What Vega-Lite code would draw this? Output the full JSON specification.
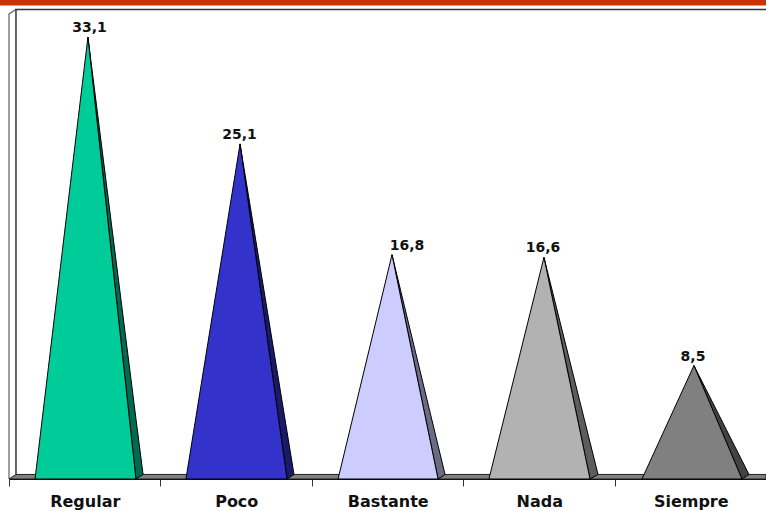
{
  "$schema": "https://vega.github.io/schema/vega-lite/v6.json",
  "width": 757,
  "height": 479,
  "padding": {"left": 9, "top": 0, "right": 0, "bottom": 32},
  "autosize": "none",
  "background": "white",
  "config": {
    "view": {"stroke": null},
    "locale": {"number": {"decimal": ",", "thousands": ".", "grouping": [3], "currency": ["", " €"]}}
  },
  "datasets": {
    "barra": [{"x": -0.06, "y": 35.9, "y2": 35.46}, {"x": 4.9967, "y": 35.9, "y2": 35.46}],
    "suelo": [{"x": 0, "y": 0, "y2": 0}, {"x": 0.046, "y": 0.34, "y2": 0}, {"x": 4.9967, "y": 0.34, "y2": 0}],
    "lateral": [{"x": 0, "y": 0, "n": 1}, {"x": 0, "y": 34.83, "n": 2}, {"x": 0.046, "y": 35.17, "n": 3}],
    "fondo": [{"x": 0.046, "y": 0.34, "n": 1}, {"x": 0.046, "y": 35.17, "n": 2}, {"x": 4.9967, "y": 35.17, "n": 3}],
    "triangulos": [
      {"parte": "Regular lado", "x": 0.521, "y": 33.1, "y2": 33.1},
      {"parte": "Regular lado", "x": 0.838, "y": 4.5, "y2": 0},
      {"parte": "Regular lado", "x": 0.885, "y": 0.34, "y2": 0.34},
      {"parte": "Regular", "x": 0.172, "y": 0, "y2": 0},
      {"parte": "Regular", "x": 0.521, "y": 33.1, "y2": 0},
      {"parte": "Regular", "x": 0.838, "y": 0, "y2": 0},
      {"parte": "Poco lado", "x": 1.525, "y": 25.1, "y2": 25.1},
      {"parte": "Poco lado", "x": 1.835, "y": 3.55, "y2": 0},
      {"parte": "Poco lado", "x": 1.881, "y": 0.34, "y2": 0.34},
      {"parte": "Poco", "x": 1.168, "y": 0, "y2": 0},
      {"parte": "Poco", "x": 1.525, "y": 25.1, "y2": 0},
      {"parte": "Poco", "x": 1.835, "y": 0, "y2": 0},
      {"parte": "Bastante lado", "x": 2.528, "y": 16.8, "y2": 16.8},
      {"parte": "Bastante lado", "x": 2.832, "y": 2.51, "y2": 0},
      {"parte": "Bastante lado", "x": 2.878, "y": 0.34, "y2": 0.34},
      {"parte": "Bastante", "x": 2.172, "y": 0, "y2": 0},
      {"parte": "Bastante", "x": 2.528, "y": 16.8, "y2": 0},
      {"parte": "Bastante", "x": 2.832, "y": 0, "y2": 0},
      {"parte": "Nada lado", "x": 3.531, "y": 16.6, "y2": 16.6},
      {"parte": "Nada lado", "x": 3.835, "y": 2.75, "y2": 0},
      {"parte": "Nada lado", "x": 3.888, "y": 0.34, "y2": 0.34},
      {"parte": "Nada", "x": 3.168, "y": 0, "y2": 0},
      {"parte": "Nada", "x": 3.531, "y": 16.6, "y2": 0},
      {"parte": "Nada", "x": 3.835, "y": 0, "y2": 0},
      {"parte": "Siempre lado", "x": 4.521, "y": 8.5, "y2": 8.5},
      {"parte": "Siempre lado", "x": 4.838, "y": 1.38, "y2": 0},
      {"parte": "Siempre lado", "x": 4.884, "y": 0.34, "y2": 0.34},
      {"parte": "Siempre", "x": 4.178, "y": 0, "y2": 0},
      {"parte": "Siempre", "x": 4.521, "y": 8.5, "y2": 0},
      {"parte": "Siempre", "x": 4.838, "y": 0, "y2": 0}
    ],
    "valores": [
      {"categoria": "Regular", "valor": 33.1, "x": 0.531},
      {"categoria": "Poco", "valor": 25.1, "x": 1.521},
      {"categoria": "Bastante", "valor": 16.8, "x": 2.627},
      {"categoria": "Nada", "valor": 16.6, "x": 3.525},
      {"categoria": "Siempre", "valor": 8.5, "x": 4.515}
    ]
  },
  "layer": [
    {
      "data": {"name": "lateral"},
      "mark": {"type": "line", "color": "#808080", "strokeWidth": 1.5, "clip": false},
      "encoding": {
        "x": {
          "field": "x", "type": "quantitative",
          "scale": {"domain": [0, 4.9967], "nice": false, "zero": false},
          "title": null,
          "axis": {
            "values": [0, 0.5, 1, 1.5, 2, 2.5, 3, 3.5, 4, 4.5],
            "grid": false,
            "domainColor": "black",
            "tickColor": "#333333",
            "tickSize": 7,
            "tickOpacity": {"expr": "datum.value % 1 === 0 ? 1 : 0"},
            "labelExpr": "datum.value === 0.5 ? 'Regular' : datum.value === 1.5 ? 'Poco' : datum.value === 2.5 ? 'Bastante' : datum.value === 3.5 ? 'Nada' : datum.value === 4.5 ? 'Siempre' : ''",
            "labelFont": "DejaVu Sans",
            "labelFontWeight": "bold",
            "labelFontSize": 16,
            "labelColor": "#111111",
            "labelPadding": 7,
            "labelFlush": false,
            "labelOverlap": false,
            "labelBound": false
          }
        },
        "y": {
          "field": "y", "type": "quantitative",
          "scale": {"domain": [0, 35.88], "nice": false},
          "axis": null
        },
        "order": {"field": "n"}
      }
    },
    {
      "data": {"name": "fondo"},
      "mark": {"type": "line", "color": "#333333", "strokeWidth": 1.5, "clip": false},
      "encoding": {
        "x": {"field": "x", "type": "quantitative"},
        "y": {"field": "y", "type": "quantitative"},
        "order": {"field": "n"}
      }
    },
    {
      "data": {"name": "barra"},
      "mark": {"type": "area", "color": "#CC3300", "clip": false},
      "encoding": {
        "x": {"field": "x", "type": "quantitative"},
        "y": {"field": "y", "type": "quantitative"},
        "y2": {"field": "y2"}
      }
    },
    {
      "data": {"name": "suelo"},
      "mark": {"type": "area", "color": "#808080", "stroke": "#222222", "strokeWidth": 1, "clip": false},
      "encoding": {
        "x": {"field": "x", "type": "quantitative"},
        "y": {"field": "y", "type": "quantitative"},
        "y2": {"field": "y2"}
      }
    },
    {
      "data": {"name": "triangulos"},
      "mark": {"type": "area", "stroke": "black", "strokeWidth": 1, "opacity": 1, "clip": false},
      "encoding": {
        "x": {"field": "x", "type": "quantitative"},
        "y": {"field": "y", "type": "quantitative"},
        "y2": {"field": "y2"},
        "color": {
          "field": "parte", "type": "nominal", "legend": null,
          "scale": {
            "domain": ["Regular", "Regular lado", "Poco", "Poco lado", "Bastante", "Bastante lado", "Nada", "Nada lado", "Siempre", "Siempre lado"],
            "range": ["#00CC99", "#006B50", "#3333CC", "#1A1A6B", "#CCCCFF", "#6B6B86", "#B2B2B2", "#5D5D5D", "#808080", "#434343"]
          }
        }
      }
    },
    {
      "data": {"name": "valores"},
      "mark": {"type": "text", "font": "DejaVu Sans", "fontWeight": "bold", "fontSize": 14, "color": "#111111", "baseline": "bottom", "dy": -2, "clip": false},
      "encoding": {
        "x": {"field": "x", "type": "quantitative"},
        "y": {"field": "valor", "type": "quantitative"},
        "text": {"field": "valor", "type": "quantitative", "format": ".1f"}
      }
    }
  ]
}
